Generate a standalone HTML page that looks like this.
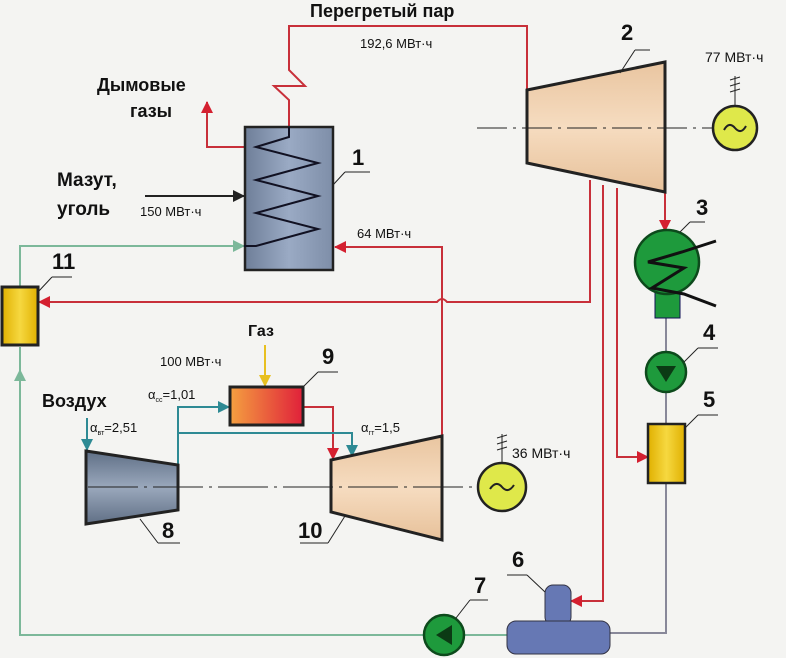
<!DOCTYPE html>
<html><head><meta charset="utf-8"><style>
body{margin:0;background:#f4f4f2;}
svg{display:block}
text{font-family:"Liberation Sans",Arial,sans-serif;fill:#111}
.b{font-weight:bold}
</style></head><body>
<svg width="786" height="658" viewBox="0 0 786 658" xmlns="http://www.w3.org/2000/svg">
<defs>
<linearGradient id="boil" x1="0" x2="1"><stop offset="0" stop-color="#6f7f99"/><stop offset="0.5" stop-color="#9aaac4"/><stop offset="1" stop-color="#7e8ea8"/></linearGradient>
<linearGradient id="tan" x1="0" y1="0" x2="0" y2="1"><stop offset="0" stop-color="#e9c5a0"/><stop offset="0.5" stop-color="#f6dcc0"/><stop offset="1" stop-color="#e7c19a"/></linearGradient>
<linearGradient id="comp" x1="0" y1="0" x2="0" y2="1"><stop offset="0" stop-color="#5f6f86"/><stop offset="0.5" stop-color="#9aa8bc"/><stop offset="1" stop-color="#606f85"/></linearGradient>
<linearGradient id="cc" x1="0" x2="1"><stop offset="0" stop-color="#f4a040"/><stop offset="1" stop-color="#e0203a"/></linearGradient>
<linearGradient id="yel" x1="0" x2="1"><stop offset="0" stop-color="#e0b000"/><stop offset="0.5" stop-color="#f6d840"/><stop offset="1" stop-color="#e0b000"/></linearGradient>
<marker id="ar" markerWidth="12" markerHeight="12" refX="11" refY="6" orient="auto" markerUnits="userSpaceOnUse"><path d="M0,0 L12,6 L0,12 Z" fill="#d42030"/></marker>
<marker id="ag" markerWidth="12" markerHeight="12" refX="11" refY="6" orient="auto" markerUnits="userSpaceOnUse"><path d="M0,0 L12,6 L0,12 Z" fill="#7cb89a"/></marker>
<marker id="at" markerWidth="12" markerHeight="12" refX="11" refY="6" orient="auto" markerUnits="userSpaceOnUse"><path d="M0,0 L12,6 L0,12 Z" fill="#2e8a94"/></marker>
<marker id="ak" markerWidth="12" markerHeight="12" refX="11" refY="6" orient="auto" markerUnits="userSpaceOnUse"><path d="M0,0 L12,6 L0,12 Z" fill="#222"/></marker>
<marker id="ay" markerWidth="12" markerHeight="12" refX="11" refY="6" orient="auto" markerUnits="userSpaceOnUse"><path d="M0,0 L12,6 L0,12 Z" fill="#e8c020"/></marker>
</defs>
<rect width="786" height="658" fill="#f4f4f2"/>

<polyline points="289,130 289,100 274,86 305,86 289,70 289,26 527,26 527,90" fill="none" stroke="#c8303a" stroke-width="2"/>
<polyline points="245,147 207,147 207,102" fill="none" stroke="#c8303a" stroke-width="2" marker-end="url(#ar)"/>
<line x1="145" y1="196" x2="244" y2="196" stroke="#222" stroke-width="2" marker-end="url(#ak)"/>
<polyline points="442,438 442,247 335,247" fill="none" stroke="#c8303a" stroke-width="2" marker-end="url(#ar)"/>
<polyline points="20,287 20,246 244,246" fill="none" stroke="#7cb89a" stroke-width="2" marker-end="url(#ag)"/>
<polyline points="424,635 20,635 20,347" fill="none" stroke="#7cb89a" stroke-width="2"/>
<line x1="20" y1="400" x2="20" y2="370" stroke="#7cb89a" stroke-width="2" marker-end="url(#ag)"/>
<path d="M590,180 L590,302 L447,302 Q442,296 437,302 L39,302" fill="none" stroke="#c8303a" stroke-width="2" marker-end="url(#ar)"/>
<polyline points="603,185 603,601 571,601" fill="none" stroke="#c8303a" stroke-width="2" marker-end="url(#ar)"/>
<polyline points="617,188 617,457 648,457" fill="none" stroke="#c8303a" stroke-width="2" marker-end="url(#ar)"/>
<line x1="665" y1="192" x2="665" y2="231" stroke="#c8303a" stroke-width="2" marker-end="url(#ar)"/>
<polyline points="666,318 666,424" fill="none" stroke="#889" stroke-width="2"/>
<polyline points="666,483 666,633 610,633" fill="none" stroke="#889" stroke-width="2"/>
<line x1="507" y1="635" x2="464" y2="635" stroke="#7cb89a" stroke-width="2"/>

<rect x="245" y="127" width="88" height="143" fill="url(#boil)" stroke="#222" stroke-width="2.5"/>
<polyline points="289,127 289,137 256,147 318,163 256,180 318,196 256,213 318,229 256,246 244,246" fill="none" stroke="#112" stroke-width="2"/>
<line x1="333" y1="185" x2="345" y2="172" stroke="#222"/><line x1="345" y1="172" x2="370" y2="172" stroke="#222"/>
<text x="352" y="165" font-size="22" class="b">1</text>

<polygon points="527,90 665,62 665,192 527,163" fill="url(#tan)" stroke="#222" stroke-width="3"/>
<line x1="477" y1="128" x2="712" y2="128" stroke="#222" stroke-width="1" stroke-dasharray="30,6,3,6"/>
<line x1="620" y1="73" x2="635" y2="50" stroke="#222"/><line x1="635" y1="50" x2="650" y2="50" stroke="#222"/>
<text x="621" y="40" font-size="22" class="b">2</text>
<circle cx="735" cy="128" r="22" fill="#dfe84a" stroke="#222" stroke-width="2.5"/>
<path d="M724,130 q5,-9 11,-2 q6,7 11,-2" fill="none" stroke="#222" stroke-width="2"/>
<line x1="735" y1="106" x2="735" y2="76" stroke="#222"/>
<path d="M730,80l10,-3M730,86l10,-3M730,92l10,-3" stroke="#222"/>
<text x="705" y="62" font-size="14">77 МВт·ч</text>

<rect x="655" y="290" width="25" height="28" fill="#1e9a3c" stroke="#115" stroke-width="1"/>
<circle cx="667" cy="262" r="32" fill="#1e9a3c" stroke="#0d4a1c" stroke-width="2.5"/>
<polyline points="716,241 682,252 648,262 684,268 652,288 684,294 716,306" fill="none" stroke="#111" stroke-width="3"/>
<line x1="680" y1="232" x2="690" y2="222" stroke="#222"/><line x1="690" y1="222" x2="705" y2="222" stroke="#222"/>
<text x="696" y="215" font-size="22" class="b">3</text>

<circle cx="666" cy="372" r="20" fill="#1e9a3c" stroke="#0d4a1c" stroke-width="2.5"/>
<path d="M656,366 L676,366 L666,382 Z" fill="#0b3a14"/>
<line x1="684" y1="362" x2="698" y2="348" stroke="#222"/><line x1="698" y1="348" x2="718" y2="348" stroke="#222"/>
<text x="703" y="340" font-size="22" class="b">4</text>
<rect x="648" y="424" width="37" height="59" fill="url(#yel)" stroke="#222" stroke-width="2.5"/>
<line x1="685" y1="428" x2="698" y2="415" stroke="#222"/><line x1="698" y1="415" x2="718" y2="415" stroke="#222"/>
<text x="703" y="407" font-size="22" class="b">5</text>

<rect x="545" y="585" width="26" height="40" rx="8" fill="#6678b4" stroke="#334"/>
<rect x="507" y="621" width="103" height="33" rx="9" fill="#6678b4" stroke="#334"/>
<line x1="545" y1="592" x2="527" y2="575" stroke="#222"/><line x1="527" y1="575" x2="507" y2="575" stroke="#222"/>
<text x="512" y="567" font-size="22" class="b">6</text>
<circle cx="444" cy="635" r="20" fill="#1e9a3c" stroke="#0d4a1c" stroke-width="2.5"/>
<path d="M436,635 L452,625 L452,645 Z" fill="#0b3a14"/>
<line x1="456" y1="618" x2="470" y2="600" stroke="#222"/><line x1="470" y1="600" x2="488" y2="600" stroke="#222"/>
<text x="474" y="593" font-size="22" class="b">7</text>

<rect x="2" y="287" width="36" height="58" fill="url(#yel)" stroke="#222" stroke-width="3"/>
<line x1="38" y1="292" x2="52" y2="277" stroke="#222"/><line x1="52" y1="277" x2="72" y2="277" stroke="#222"/>
<text x="52" y="269" font-size="22" class="b">11</text>

<line x1="265" y1="345" x2="265" y2="386" stroke="#e8c020" stroke-width="2" marker-end="url(#ay)"/>
<polyline points="303,407 333,407 333,459" fill="none" stroke="#c8303a" stroke-width="2" marker-end="url(#ar)"/>
<polyline points="178,466 178,407 229,407" fill="none" stroke="#2e8a94" stroke-width="2" marker-end="url(#at)"/>
<polyline points="178,433 352,433 352,456" fill="none" stroke="#2e8a94" stroke-width="2" marker-end="url(#at)"/>
<line x1="87" y1="418" x2="87" y2="450" stroke="#2e8a94" stroke-width="2" marker-end="url(#at)"/>
<rect x="230" y="387" width="73" height="38" fill="url(#cc)" stroke="#222" stroke-width="3"/>
<line x1="303" y1="387" x2="318" y2="372" stroke="#222"/><line x1="318" y1="372" x2="338" y2="372" stroke="#222"/>
<text x="322" y="364" font-size="22" class="b">9</text>
<polygon points="86,451 178,465 178,510 86,524" fill="url(#comp)" stroke="#222" stroke-width="3"/>
<polygon points="331,460 442,436 442,540 331,512" fill="url(#tan)" stroke="#222" stroke-width="3"/>
<line x1="88" y1="487" x2="478" y2="487" stroke="#222" stroke-width="1" stroke-dasharray="50,6,3,6"/>
<circle cx="502" cy="487" r="24" fill="#dfe84a" stroke="#222" stroke-width="2.5"/>
<path d="M490,489 q6,-9 12,-2 q6,7 12,-2" fill="none" stroke="#222" stroke-width="2"/>
<line x1="502" y1="463" x2="502" y2="434" stroke="#222"/>
<path d="M497,438l10,-3M497,444l10,-3M497,450l10,-3" stroke="#222"/>
<text x="512" y="458" font-size="14">36 МВт·ч</text>
<line x1="140" y1="519" x2="158" y2="543" stroke="#222"/><line x1="158" y1="543" x2="180" y2="543" stroke="#222"/>
<text x="162" y="538" font-size="22" class="b">8</text>
<line x1="345" y1="516" x2="328" y2="543" stroke="#222"/><line x1="328" y1="543" x2="300" y2="543" stroke="#222"/>
<text x="298" y="538" font-size="22" class="b">10</text>

<text x="310" y="17" font-size="18" class="b">Перегретый пар</text>
<text x="360" y="48" font-size="13">192,6 МВт·ч</text>
<text x="97" y="91" font-size="18" class="b">Дымовые</text>
<text x="130" y="117" font-size="18" class="b">газы</text>
<text x="57" y="186" font-size="19" class="b">Мазут,</text>
<text x="57" y="215" font-size="19" class="b">уголь</text>
<text x="140" y="216" font-size="13">150 МВт·ч</text>
<text x="357" y="238" font-size="13">64 МВт·ч</text>
<text x="248" y="336" font-size="16" class="b">Газ</text>
<text x="160" y="366" font-size="13">100 МВт·ч</text>
<text x="42" y="407" font-size="18" class="b">Воздух</text>
<text x="148" y="399" font-size="13">α<tspan font-size="7" dy="3">сс</tspan><tspan dy="-3">=1,01</tspan></text>
<text x="90" y="432" font-size="13">α<tspan font-size="7" dy="3">вт</tspan><tspan dy="-3">=2,51</tspan></text>
<text x="361" y="432" font-size="13">α<tspan font-size="7" dy="3">гт</tspan><tspan dy="-3">=1,5</tspan></text>
</svg>
</body></html>
